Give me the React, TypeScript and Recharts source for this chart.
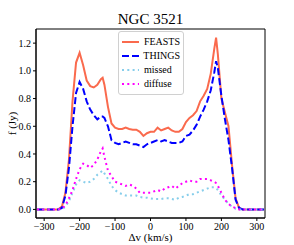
import type { FC } from "react";
import {
  LineChart,
  Line,
  XAxis,
  YAxis,
  Legend,
  Label,
  ReferenceArea,
} from "recharts";

// velocity channels (km/s)
const velocity = [
  -320, -310, -300, -290, -280, -270, -260, -250, -240, -230, -220, -210, -200,
  -190, -180, -170, -160, -150, -140, -135, -130, -120, -110, -100, -90, -80,
  -70, -60, -50, -40, -30, -20, -10, 0, 10, 20, 30, 40, 50, 60, 70, 80, 90, 100,
  110, 120, 130, 140, 150, 160, 170, 180, 185, 190, 200, 210, 220, 230, 240,
  250, 260, 270, 280, 290, 300, 310, 320,
];

const feasts = [
  0, 0, 0, 0, 0, 0, 0, 0.02, 0.12, 0.36, 0.78, 1.06, 1.13, 1.04, 0.93, 0.89,
  0.88, 0.9, 0.94, 0.95, 0.9, 0.74, 0.62, 0.59, 0.58, 0.58, 0.59, 0.58, 0.575,
  0.575, 0.56, 0.53, 0.55, 0.56, 0.56, 0.59, 0.57, 0.58, 0.59, 0.57, 0.56, 0.56,
  0.58, 0.63, 0.66, 0.68, 0.71, 0.78, 0.82, 0.87, 0.98, 1.16, 1.24, 1.12, 0.8,
  0.7, 0.6, 0.32, 0.08, 0.01, 0, 0, 0, 0, 0, 0, 0,
];

const things = [
  0, 0, 0, 0, 0, 0, 0, 0.01, 0.1, 0.3, 0.6, 0.84, 0.92, 0.87, 0.78, 0.72, 0.68,
  0.65, 0.67, 0.67, 0.66, 0.6, 0.5, 0.48, 0.47, 0.48, 0.49, 0.48, 0.47, 0.47,
  0.46, 0.45, 0.47, 0.48, 0.49, 0.5, 0.49, 0.5, 0.49, 0.48, 0.48, 0.48, 0.49,
  0.53, 0.54, 0.57, 0.61, 0.67, 0.72, 0.78, 0.86, 0.99, 1.07, 1.02, 0.82, 0.65,
  0.5, 0.3, 0.07, 0.01, 0, 0, 0, 0, 0, 0, 0,
];

const missed = [
  0, 0, 0, 0, 0, 0, 0, 0, 0.02, 0.06, 0.12, 0.18, 0.21, 0.2, 0.19, 0.2, 0.22,
  0.25, 0.27, 0.28, 0.26, 0.22, 0.17, 0.14, 0.12, 0.11, 0.1, 0.1, 0.1, 0.1,
  0.09, 0.085, 0.085, 0.08, 0.075, 0.075, 0.075, 0.08, 0.08, 0.075, 0.07, 0.085,
  0.09, 0.1, 0.11, 0.11, 0.12, 0.13, 0.14, 0.15, 0.16, 0.16, 0.155, 0.14, 0.1,
  0.07, 0.04, 0.02, 0.005, 0, 0, 0, 0, 0, 0, 0, 0,
];

const diffuse = [
  0, 0, 0, 0, 0, 0, 0, 0.005, 0.03, 0.08, 0.14, 0.22, 0.29, 0.33, 0.32, 0.3,
  0.32, 0.36, 0.42, 0.44, 0.38, 0.28, 0.24, 0.2, 0.19, 0.18, 0.17, 0.18, 0.17,
  0.15, 0.12, 0.12, 0.12, 0.12, 0.13, 0.14, 0.13, 0.15, 0.16, 0.17, 0.15, 0.17,
  0.19, 0.2, 0.21, 0.2, 0.2, 0.22, 0.22, 0.22, 0.21, 0.2, 0.19, 0.17, 0.12, 0.07,
  0.04, 0.02, 0.01, 0, 0, 0, 0, 0, 0, 0, 0,
];

const xTicks = [-300, -200, -100, 0, 100, 200, 300];
const yTicks = [0, 0.2, 0.4, 0.6, 0.8, 1.0, 1.2];

const X_DOMAIN = [-323, 323];
const Y_DOMAIN = [-0.062, 1.302];

const data = velocity.map((v, i) => ({
  v,
  FEASTS: feasts[i],
  THINGS: things[i],
  missed: missed[i],
  diffuse: diffuse[i],
}));

const SERIES = [
  { key: "FEASTS", color: "#fa6a4d", dash: undefined, width: 2 },
  { key: "THINGS", color: "#0000ff", dash: "7 3", width: 2 },
  { key: "missed", color: "#87ceeb", dash: "2 3.3", width: 2 },
  { key: "diffuse", color: "#ff00ff", dash: "2 3.3", width: 2 },
];

const FONT = "'Times New Roman', 'Liberation Serif', Tinos, 'DejaVu Serif', serif";

const fmtX = (v: number) => (v < 0 ? `\u2212${Math.abs(v)}` : `${v}`);

const LegendBox = () => (
  <div
    style={{
      border: "1px solid #d0d0d0",
      borderRadius: 3,
      background: "rgba(255,255,255,0.8)",
      padding: "3px 3px 3px 2px",
      fontFamily: FONT,
      fontSize: 10,
      lineHeight: "14px",
      color: "#000",
    }}
  >
    {SERIES.map((s) => (
      <div key={s.key} style={{ display: "flex", alignItems: "center" }}>
        <svg width={20} height={14} style={{ marginRight: 3 }}>
          <line
            x1={1}
            x2={18}
            y1={7}
            y2={7}
            stroke={s.color}
            strokeWidth={s.width}
            strokeDasharray={s.dash}
          />
        </svg>
        <span>{s.key}</span>
      </div>
    ))}
  </div>
);

const App: FC = () => {
  return (
    <div style={{ position: "absolute", left: 0, top: 0, fontFamily: FONT }}>
      <LineChart
        width={294}
        height={245}
        data={data}
        margin={{ top: 29, right: 29, left: 0, bottom: 0 }}
        style={{ fontFamily: FONT }}
      >
        <XAxis
          dataKey="v"
          type="number"
          domain={X_DOMAIN}
          ticks={xTicks}
          tickFormatter={fmtX}
          allowDataOverflow
          height={27}
          tickSize={3}
          stroke="#000"
          tick={{ fill: "#000", fontSize: 10, fontFamily: FONT }}
        >
          <Label
            value="Δv (km/s)"
            position="insideBottom"
            offset={4}
            style={{ fill: "#000", fontSize: 11, fontFamily: FONT }}
          />
        </XAxis>
        <YAxis
          type="number"
          domain={Y_DOMAIN}
          ticks={yTicks}
          tickFormatter={(v: number) => v.toFixed(1)}
          allowDataOverflow
          width={36}
          tickSize={3}
          stroke="#000"
          tick={{ fill: "#000", fontSize: 10, fontFamily: FONT }}
        >
          <Label
            value="f (Jy)"
            angle={-90}
            position="center"
            dx={-6}
            style={{ fill: "#000", fontSize: 11, fontFamily: FONT, textAnchor: "middle" }}
          />
        </YAxis>
        <ReferenceArea
          x1={X_DOMAIN[0]}
          x2={X_DOMAIN[1]}
          y1={Y_DOMAIN[0]}
          y2={Y_DOMAIN[1]}
          fill="none"
          fillOpacity={0}
          stroke="#000"
          strokeWidth={1}
          ifOverflow="visible"
        >
          <Label
            value="NGC 3521"
            position="top"
            offset={5}
            style={{ fill: "#000", fontSize: 15, fontFamily: FONT }}
          />
        </ReferenceArea>
        <Legend
          layout="vertical"
          align="center"
          verticalAlign="middle"
          content={() => <LegendBox />}
          wrapperStyle={{ left: 118, top: 31, width: 66 }}
        />
        {SERIES.map((s) => (
          <Line
            key={s.key}
            dataKey={s.key}
            type="linear"
            stroke={s.color}
            strokeWidth={s.width}
            strokeDasharray={s.dash}
            dot={false}
            activeDot={false}
            isAnimationActive={false}
          />
        ))}
      </LineChart>
    </div>
  );
};

export default App;
